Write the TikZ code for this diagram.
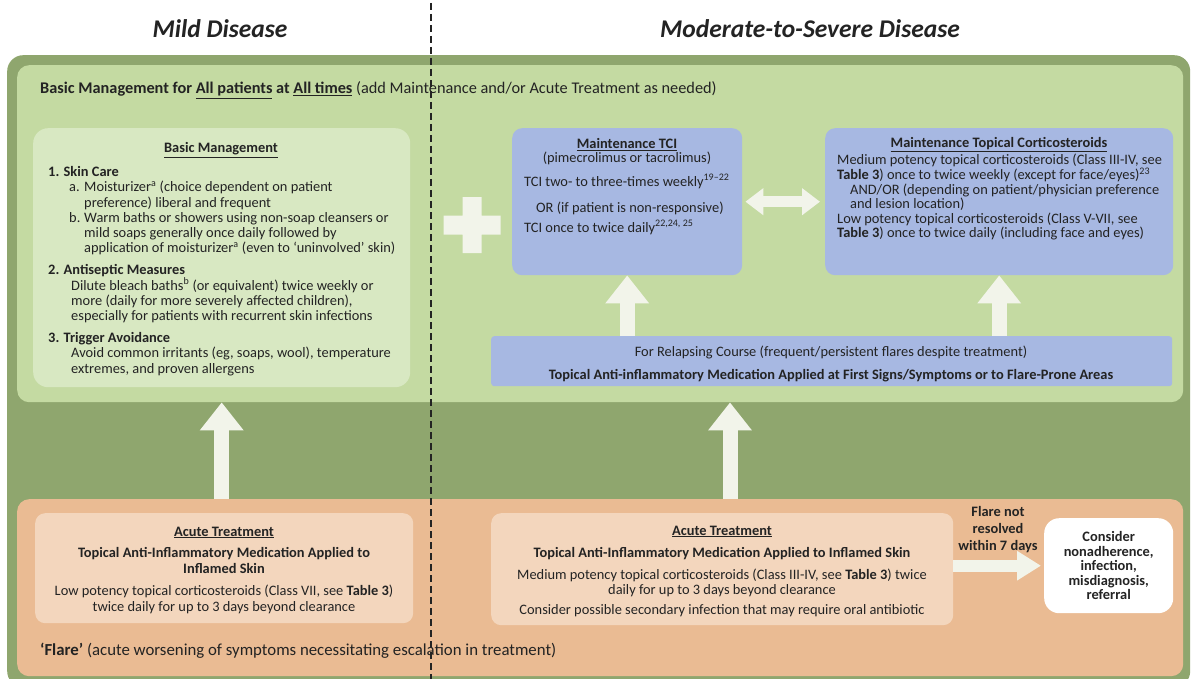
\documentclass[tikz,border=0pt]{standalone}
\usepackage{fontspec}
\setmainfont{Carlito}
\usetikzlibrary{arrows.meta}

\definecolor{outergreen}{RGB}{143,166,110}
\definecolor{lightgreen}{RGB}{196,218,162}
\definecolor{palegreen}{RGB}{216,232,194}
\definecolor{tciblue}{RGB}{167,184,226}
\definecolor{flareorange}{RGB}{234,187,147}
\definecolor{paleorange}{RGB}{243,214,189}
\definecolor{offwhite}{RGB}{242,244,234}
\definecolor{ink}{RGB}{35,35,35}

\begin{document}
\begin{tikzpicture}[x=1pt,y=-1pt]
    \tikzset{% styles for bands, boxes, arrows and text
    band/.style={rounded corners=12pt, inner sep=0pt, anchor=north west},
    panel/.style={rounded corners=10pt, inner sep=0pt, anchor=north west},
    txt/.style={inner sep=0pt, text=ink, font=\fontsize{14.4}{15.2}\selectfont},
    btxt/.style={txt, font=\fontsize{14.4}{15.2}\selectfont\bfseries},
    bigarrow/.style={draw=offwhite, line width=15pt, -{Triangle[width=42pt,length=28pt]}},
    twoway/.style={draw=offwhite, line width=11pt, {Triangle[width=26pt,length=18pt]}-{Triangle[width=26pt,length=18pt]}},
    sidearrow/.style={draw=offwhite, line width=12pt, -{Triangle[width=28pt,length=24pt]}},
    }
    \useasboundingbox (0,0) rectangle (1193,679);
    \fill[white] (0,0) rectangle (1193,679);

    % Bands
    \node[band, fill=outergreen, rounded corners=16pt, minimum width=1183, minimum height=632] (frame) at (7,55) {};
    \node[band, fill=lightgreen, minimum width=1166, minimum height=337] (mgmt) at (17,65) {};
    \node[band, fill=flareorange, minimum width=1166, minimum height=177] (flare) at (17,499) {};

    % Boxes
    \node[panel, fill=palegreen, rounded corners=15pt, minimum width=377, minimum height=259] (basic) at (33,128) {};
    \node[panel, fill=tciblue, minimum width=230, minimum height=147] (tci) at (512,128) {};
    \node[panel, fill=tciblue, minimum width=348, minimum height=147] (topical) at (825,128) {};
    \node[panel, fill=tciblue, rounded corners=3pt, minimum width=681, minimum height=50] (relapse) at (491,336) {};
    \node[panel, fill=paleorange, minimum width=378, minimum height=110] (acuteL) at (35,513) {};
    \node[panel, fill=paleorange, minimum width=462, minimum height=112] (acuteR) at (491,513) {};
    \node[panel, fill=white, rounded corners=15pt, minimum width=129, minimum height=95,
          align=center, font=\fontsize{14.4}{14.6}\selectfont\bfseries, text=ink] (consider) at (1044,518)
          {Consider\\nonadherence,\\infection,\\misdiagnosis,\\referral};
    \coordinate (upR) at (730,499);

    % Arrows
    \draw[bigarrow] (basic.south |- flare.north) -- (basic.south |- mgmt.south);
    \draw[bigarrow] (upR) -- (upR |- mgmt.south);
    \draw[bigarrow] (tci.south |- relapse.north) -- (tci.south);
    \draw[bigarrow] (topical.south |- relapse.north) -- (topical.south);
    \draw[twoway, shorten <=3pt, shorten >=5pt] (tci.east) -- (topical.west);
    \draw[sidearrow, shorten >=3pt] (acuteR.east |- consider.west) -- (consider.west);
    \fill[offwhite] (462.5,197) rectangle (481.5,253) (443.5,215.5) rectangle (500.5,234.5);

    % Titles
    \node[txt, font=\fontsize{25.5}{28}\selectfont\bfseries\itshape, anchor=base] (mild) at (220,38) {Mild Disease};
    \node[txt, font=\fontsize{25.5}{28}\selectfont\bfseries\itshape, anchor=base] (severe) at (810,38) {Moderate-to-Severe Disease};
    \node[txt, font=\fontsize{16.3}{18}\selectfont, anchor=base west] (header) at (40,94)
        {\textbf{Basic Management for \underline{All patients} at \underline{All times}} (add Maintenance and/or Acute Treatment as needed)};

    % Basic management text (multi-line nodes sit on their last line)
    \node[btxt, anchor=base] (basictitle) at (221,153) {\underline{Basic Management}};
    \node[txt, align=left, anchor=base west] (basiclist) at (48,373) {%
        \textbf{1. Skin Care}\\
        \hspace*{21pt}\makebox[15pt][l]{a.}Moisturizer\textsuperscript{a} (choice dependent on patient\\
        \hspace*{36pt}preference) liberal and frequent\\
        \hspace*{21pt}\makebox[15pt][l]{b.}Warm baths or showers using non-soap cleansers or\\
        \hspace*{36pt}mild soaps generally once daily followed by\\
        \hspace*{36pt}application of moisturizer\textsuperscript{a} (even to `uninvolved' skin)\\[7pt]
        \textbf{2. Antiseptic Measures}\\
        \hspace*{23pt}Dilute bleach baths\textsuperscript{b} (or equivalent) twice weekly or\\
        \hspace*{23pt}more (daily for more severely affected children),\\
        \hspace*{23pt}especially for patients with recurrent skin infections\\[7pt]
        \textbf{3. Trigger Avoidance}\\
        \hspace*{23pt}Avoid common irritants (eg, soaps, wool), temperature\\
        \hspace*{23pt}extremes, and proven allergens};

    % Maintenance text
    \node[btxt, anchor=base] (tcititle) at (627,149) {\underline{Maintenance TCI}};
    \node[txt, anchor=base] (tcisub) at (627,163) {(pimecrolimus or tacrolimus)};
    \node[txt, align=left, anchor=base west] (tcitext) at (524,232) {%
        TCI two- to three-times weekly\textsuperscript{19--22}\\[10.8pt]
        \hspace*{12pt}OR (if patient is non-responsive)\\[4.8pt]
        TCI once to twice daily\textsuperscript{22,24, 25}};
    \node[btxt, anchor=base] (toptitle) at (999,148) {\underline{Maintenance Topical Corticosteroids}};
    \node[txt, font=\fontsize{14.4}{13.4}\selectfont, align=left, anchor=base west] (toptext) at (837,237) {%
        Medium potency topical corticosteroids (Class III-IV, see\\
        \textbf{Table 3}) once to twice weekly (except for face/eyes)\textsuperscript{23}\\[2pt]
        \hspace*{13pt}AND/OR (depending on patient/physician preference\\
        \hspace*{13pt}and lesion location)\\[2pt]
        Low potency topical corticosteroids (Class V-VII, see\\
        \textbf{Table 3}) once to twice daily (including face and eyes)};
    \node[txt, anchor=base] (relapsetop) at (831,356) {For Relapsing Course (frequent/persistent flares despite treatment)};
    \node[btxt, anchor=base] (relapsebot) at (831,379) {Topical Anti-inflammatory Medication Applied at First Signs/Symptoms or to Flare-Prone Areas};

    % Acute treatment text
    \node[btxt, anchor=base] (acuteLtitle) at (224,536) {\underline{Acute Treatment}};
    \node[btxt, align=center, anchor=base] (acuteLhead) at (224,573) {Topical Anti-Inflammatory Medication Applied to\\Inflamed Skin};
    \node[txt, align=center, anchor=base] (acuteLtext) at (224,611)
        {Low potency topical corticosteroids (Class VII, see \textbf{Table 3})\\twice daily for up to 3 days beyond clearance};
    \node[btxt, anchor=base] (acuteRtitle) at (722,535) {\underline{Acute Treatment}};
    \node[btxt, anchor=base] (acuteRhead) at (722,557) {Topical Anti-Inflammatory Medication Applied to Inflamed Skin};
    \node[txt, align=center, anchor=base] (acuteRtext) at (722,614)
        {Medium potency topical corticosteroids (Class III-IV, see \textbf{Table 3}) twice\\
         daily for up to 3 days beyond clearance\\[4pt]
         Consider possible secondary infection that may require oral antibiotic};
    \node[btxt, font=\fontsize{14.4}{17}\selectfont\bfseries, align=center, anchor=base] (notresolved) at (998,550)
        {Flare not\\resolved\\within 7 days};
    \node[txt, font=\fontsize{16.8}{18}\selectfont, anchor=base west] (flaretext) at (40,655)
        {\textbf{`Flare'} (acute worsening of symptoms necessitating escalation in treatment)};

    % Divider
    \draw[ink, line width=1.6pt, dash pattern=on 7pt off 4pt] (431,3) -- (431,679);
\end{tikzpicture}
\end{document}
